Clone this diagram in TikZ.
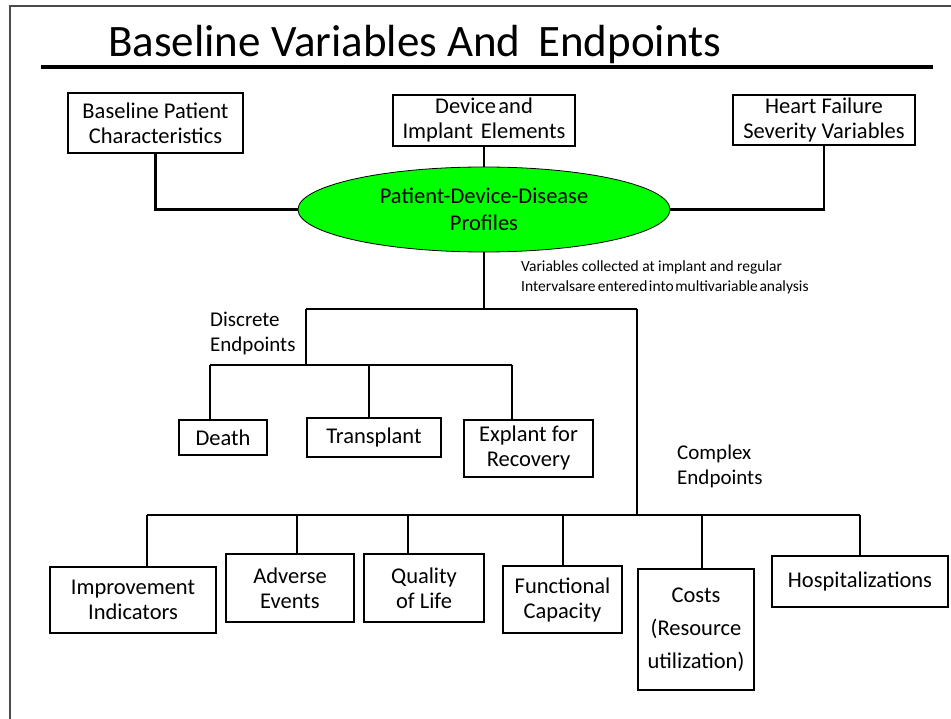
\documentclass[tikz,border=0pt]{standalone}
\usepackage{fontspec}
\setmainfont{Carlito}
\usetikzlibrary{shapes.geometric}
\begin{document}
\begin{tikzpicture}[x=1pt,y=-1pt,
  box/.style={draw=black,line width=2.6pt,fill=white,align=center,inner sep=0pt,
    font=\fontsize{22.5}{25}\selectfont},
  conn/.style={line width=2.6pt},
  lbl/.style={align=left,inner sep=0pt,anchor=north west,font=\fontsize{21}{25}\selectfont},
  note/.style={align=left,inner sep=0pt,anchor=north west,font=\fontsize{15.5}{20}\selectfont}]
\useasboundingbox (0,0) rectangle (951,719);
% frame
\coordinate (fb) at (10,719);
\coordinate (fc) at (10,6);
\coordinate (fr) at (951,6);
\draw[black!70,line width=2pt] (fb) -- (fc) -- (fr);
% title
\node[anchor=base west,inner sep=0pt,font=\fontsize{45}{52}\selectfont] (title) at (108,57) {Baseline Variables And\, Endpoints};
\coordinate (ul1) at (41,67);
\coordinate (ul2) at (933,67);
\draw[line width=4.5pt] (ul1) -- (ul2);
% top boxes
\node[box,minimum width=175pt,minimum height=60pt] (bpc) at (155.5,123) {Baseline Patient\\Characteristics};
\node[box,minimum width=182pt,minimum height=51pt] (die) at (484,120.5) {Device\hspace{0.1em}and\\Implant\hspace{0.35em}Elements};
\node[box,minimum width=182pt,minimum height=50pt] (hfs) at (824,120) {Heart Failure\\Severity Variables};
\node[ellipse,draw=black,line width=0.8pt,fill=green,minimum width=372pt,minimum height=85pt,inner sep=0pt,align=center,font=\fontsize{22.5}{27}\selectfont] (prof) at (484,209.5) {Patient-Device-Disease\\Profiles};
\draw[conn] (bpc.south) |- (prof.west);
\draw[conn] (hfs.south) |- (prof.east);
\draw[conn] (die.south) -- (prof.north);
% annotation
\node[note] (ann) at (521,261) {Variables collected at implant and regular\\Intervalsare\hspace{0.15em}entered\hspace{0.1em}into\hspace{0.1em}multivariable\hspace{0.1em}analysis};
% main split
\coordinate (j1) at (484,309);
\coordinate (dL) at (306,309);
\coordinate (cR) at (637,309);
\draw[conn] (prof.south) -- (j1);
\draw[conn] (dL) -- (cR);
% discrete endpoints
\node[lbl] (dlab) at (210,312) {Discrete\\Endpoints};
\coordinate (dJ) at (306,365);
\draw[conn] (dL) -- (dJ);
\coordinate (b1) at (210,365);
\coordinate (b3) at (512,365);
\draw[conn] (b1) -- (b3);
\node[box,minimum width=88pt,minimum height=35pt] (death) at (223,437.5) {Death};
\node[box,minimum width=134pt,minimum height=39pt] (trans) at (374,437.5) {Transplant};
\node[box,minimum width=129pt,minimum height=57pt] (expl) at (528.5,448.5) {Explant for\\Recovery};
\draw[conn] (b1) -- (b1 |- death.north);
\draw[conn] (b1 -| trans.north) ++(-5,0) coordinate (b2) -- (b2 |- trans.north);
\draw[conn] (b3) -- (b3 |- expl.north);
% complex endpoints
\node[lbl] (clab) at (677,445) {Complex\\Endpoints};
\coordinate (cJ) at (637,515);
\draw[conn] (cR) -- (cJ);
\coordinate (c1) at (147,515);
\coordinate (c2) at (297,515);
\coordinate (c3) at (408,515);
\coordinate (c4) at (563,515);
\coordinate (c5) at (702,515);
\coordinate (c6) at (860,515);
\draw[conn] (c1) -- (c6);
\node[box,minimum width=166pt,minimum height=66pt] (impr) at (133,600) {Improvement\\Indicators};
\node[box,minimum width=128pt,minimum height=68pt] (adv) at (290,588) {Adverse\\Events};
\node[box,minimum width=120pt,minimum height=68pt] (qol) at (424,588) {Quality\\of Life};
\node[box,minimum width=119pt,minimum height=67pt] (func) at (562.5,599.5) {Functional\\Capacity};
\node[box,minimum width=116pt,minimum height=121pt,font=\fontsize{22.5}{33}\selectfont] (cost) at (696,629.5) {Costs\\(Resource\\utilization)};
\node[box,minimum width=176pt,minimum height=51pt] (hosp) at (860,581.5) {Hospitalizations};
\draw[conn] (c1) -- (c1 |- impr.north);
\draw[conn] (c2) -- (c2 |- adv.north);
\draw[conn] (c3) -- (c3 |- qol.north);
\draw[conn] (c4) -- (c4 |- func.north);
\draw[conn] (c5) -- (c5 |- cost.north);
\draw[conn] (c6) -- (c6 |- hosp.north);
\end{tikzpicture}
\end{document}
